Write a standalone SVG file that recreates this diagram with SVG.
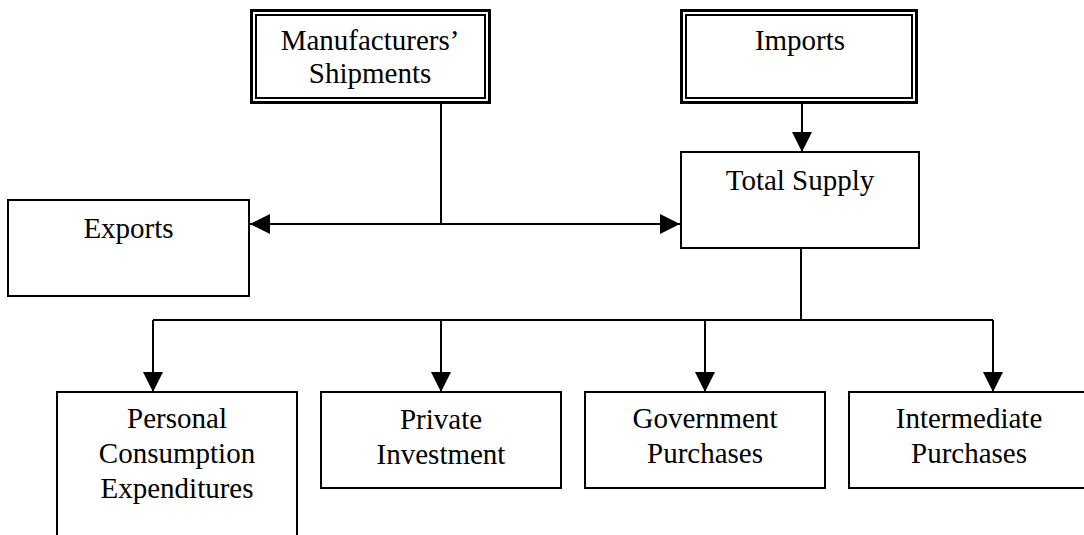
<svg xmlns="http://www.w3.org/2000/svg" width="1084" height="535" viewBox="0 0 1084 535">
<defs>
<marker id="ah" markerUnits="userSpaceOnUse" viewBox="0 0 20 20" refX="20" refY="10" markerWidth="20" markerHeight="20" orient="auto-start-reverse">
<path d="M0,0 L20,10 L0,20 Z" fill="#000"/>
</marker>
<style>
.box{fill:#fff;stroke:#000;stroke-width:2}
.outer{fill:#fff;stroke:#000;stroke-width:3}
.inner{fill:none;stroke:#000;stroke-width:2}
.conn{fill:none;stroke:#000;stroke-width:2}
text{font-family:"Liberation Serif","Times New Roman",serif;font-size:29px;fill:#000;text-anchor:middle}
</style>
</defs>
<rect width="1084" height="535" fill="#fff"/>
<g id="connectors">
<polyline class="conn" points="441,104 441,224"/>
<line class="conn" x1="250" y1="224" x2="680" y2="224" marker-start="url(#ah)" marker-end="url(#ah)"/>
<line class="conn" x1="802" y1="103" x2="802" y2="152" marker-end="url(#ah)"/>
<polyline class="conn" points="801,248 801,320"/>
<line class="conn" x1="153" y1="320" x2="993" y2="320"/>
<line class="conn" x1="153" y1="320" x2="153" y2="392" marker-end="url(#ah)"/>
<line class="conn" x1="441" y1="320" x2="441" y2="392" marker-end="url(#ah)"/>
<line class="conn" x1="705" y1="320" x2="705" y2="392" marker-end="url(#ah)"/>
<line class="conn" x1="993" y1="320" x2="993" y2="392" marker-end="url(#ah)"/>
</g>
<g id="manufacturers">
<rect class="outer" x="251.5" y="10.5" width="238" height="92"/>
<rect class="inner" x="256" y="15" width="229" height="83"/>
<text x="370" y="50">Manufacturers’</text>
<text x="370" y="83">Shipments</text>
</g>
<g id="imports">
<rect class="outer" x="681.5" y="10.5" width="235" height="92"/>
<rect class="inner" x="686" y="15" width="226" height="83"/>
<text x="800" y="50">Imports</text>
</g>
<g id="total-supply">
<rect class="box" x="681" y="152" width="238" height="96"/>
<text x="800" y="190">Total Supply</text>
</g>
<g id="exports">
<rect class="box" x="8" y="200" width="241" height="96"/>
<text x="128.5" y="238">Exports</text>
</g>
<g id="personal">
<rect class="box" x="57" y="392" width="240" height="160"/>
<text x="177" y="428">Personal</text>
<text x="177" y="463">Consumption</text>
<text x="177" y="498">Expenditures</text>
</g>
<g id="private">
<rect class="box" x="321" y="392" width="240" height="96"/>
<text x="441" y="429">Private</text>
<text x="441" y="464">Investment</text>
</g>
<g id="government">
<rect class="box" x="585" y="392" width="240" height="96"/>
<text x="705" y="428">Government</text>
<text x="705" y="463">Purchases</text>
</g>
<g id="intermediate">
<rect class="box" x="849" y="392" width="240" height="96"/>
<text x="969" y="428">Intermediate</text>
<text x="969" y="463">Purchases</text>
</g>
</svg>
